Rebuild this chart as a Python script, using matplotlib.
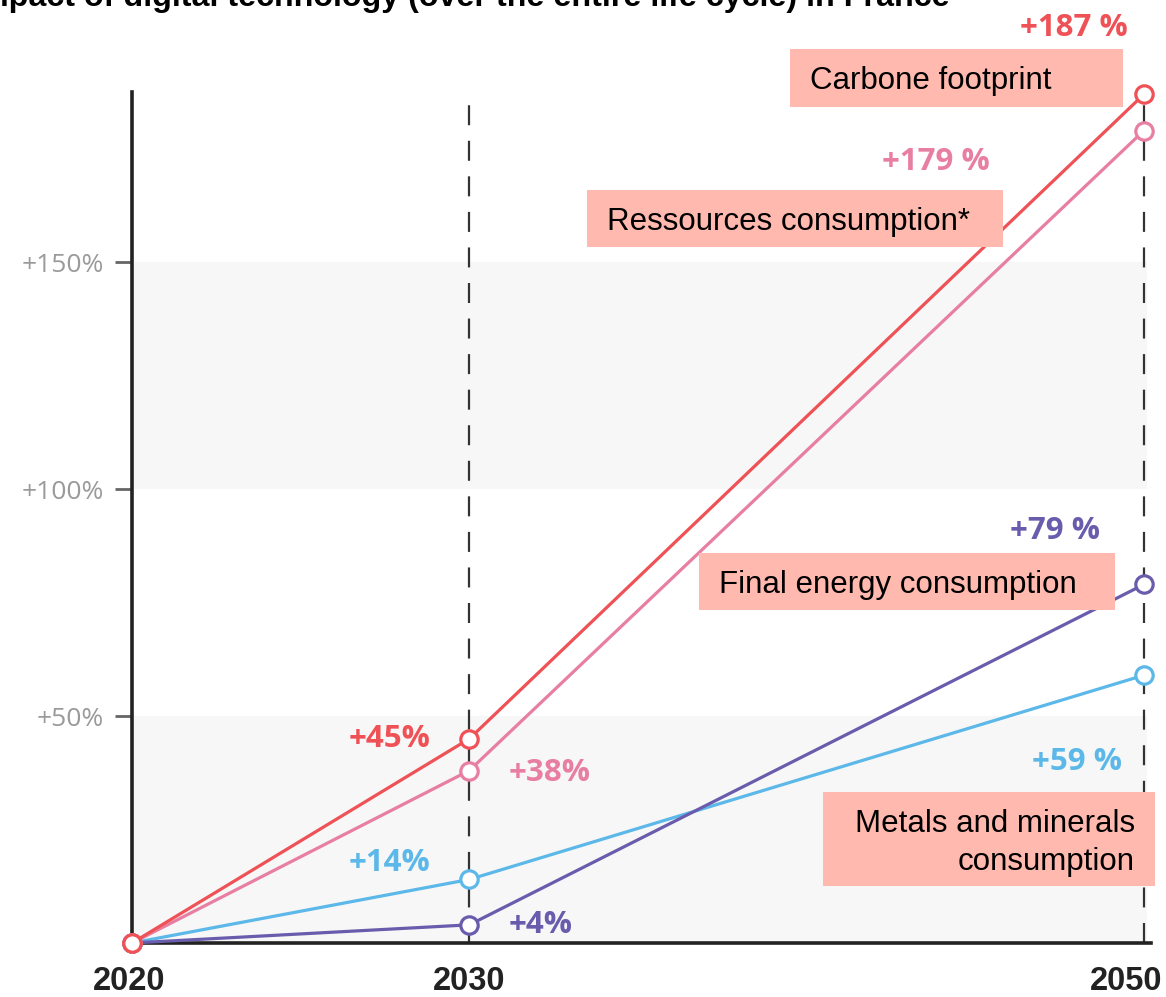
import matplotlib
matplotlib.use("Agg")
import matplotlib.pyplot as plt
from matplotlib.patches import Rectangle

# ---- data ----
years = [2020, 2030, 2050]
carbon = [0, 45, 187]
resources = [0, 38, 179]
energy = [0, 4, 79]
metals = [0, 14, 59]
series_names = ["Carbone footprint", "Ressources consumption*",
                "Final energy consumption", "Metals and minerals\nconsumption"]
ytick_vals = [50, 100, 150]
ytick_labels = ["+50%", "+100%", "+150%"]
xtick_labels = ["2020", "2030", "2050"]
title = "Impact of digital technology (over the entire life cycle) in France"

c_red = "#ef5256"
c_pink = "#e87ea1"
c_purple = "#6a5cad"
c_blue = "#5cb8e8"
c_box = "#ffb9ae"

W, H = 1166, 997
fig = plt.figure(figsize=(W / 100, H / 100), dpi=100)
fig.patch.set_facecolor("white")

def fx(x):
    return x / W

def fy(y):
    return 1 - y / H

ax = fig.add_axes([fx(132), fy(943), fx(1147) - fx(132), fy(92) - fy(943)])
ax.set_xlim(2020, 2050.09)
ax.set_ylim(0, 187.5)

# background bands
ax.axhspan(0, 50, color="#f7f7f7", zorder=0, lw=0)
ax.axhspan(100, 150, color="#f7f7f7", zorder=0, lw=0)

# dashed verticals
for yr in years[1:]:
    ax.axvline(yr, color="#333333", lw=1.6, dashes=(9, 7), zorder=1)

mk = dict(marker="o", markersize=12.5, markerfacecolor="white", markeredgewidth=2.3,
          lw=2.3, clip_on=False, zorder=3)
ax.plot(years, metals, color=c_blue, **mk)
ax.plot(years, energy, color=c_purple, **mk)
ax.plot(years, resources, color=c_pink, **mk)
ax.plot(years, carbon, color=c_red, **mk)

# spines
for s in ["top", "right"]:
    ax.spines[s].set_visible(False)
ax.spines["left"].set_linewidth(2.6)
ax.spines["left"].set_color("#222222")
ax.spines["bottom"].set_linewidth(2.6)
ax.spines["bottom"].set_color("#222222")
ax.spines["bottom"].set_bounds(2020, 2050.2)

ax.set_yticks(ytick_vals)
ax.set_yticklabels(ytick_labels, fontsize=19, color="#9a9a9a",
                   family=["Open Sans", "DejaVu Sans"])
ax.tick_params(axis="y", length=12, width=2, color="#666666", pad=8)
ax.set_xticks(years)
ax.set_xticklabels([])
ax.tick_params(axis="x", length=0)

# x labels
xl = dict(textcoords="offset pixels", fontsize=23.5, fontweight="bold", color="#222222",
          family="Liberation Sans", va="baseline", annotation_clip=False)
ax.annotate(xtick_labels[0], (years[0], 0), xytext=(-3, -47), ha="center", **xl)
ax.annotate(xtick_labels[1], (years[1], 0), xytext=(0, -47), ha="center", **xl)
ax.annotate(xtick_labels[2], (years[2], 0), xytext=(18, -47), ha="right", **xl)

# value labels
lab = dict(textcoords="offset pixels", fontsize=22.5, fontweight="bold",
           family=["Open Sans", "DejaVu Sans"], va="center", zorder=4)
ax.annotate(f"+{carbon[1]}%", (years[1], carbon[1]), xytext=(-39, 0), ha="right", color=c_red, **lab)
ax.annotate(f"+{resources[1]}%", (years[1], resources[1]), xytext=(39, -2), ha="left", color=c_pink, **lab)
ax.annotate(f"+{metals[1]}%", (years[1], metals[1]), xytext=(-39, 16), ha="right", color=c_blue, **lab)
ax.annotate(f"+{energy[1]}%", (years[1], energy[1]), xytext=(39, 0), ha="left", color=c_purple, **lab)
ax.annotate(f"+{carbon[2]} %", (years[2], carbon[2]), xytext=(-16, 66), ha="right", color=c_red,
            annotation_clip=False, **lab)
ax.annotate(f"+{resources[2]} %", (years[2], resources[2]), xytext=(-154, -31), ha="right", color=c_pink, **lab)
ax.annotate(f"+{energy[2]} %", (years[2], energy[2]), xytext=(-44, 53), ha="right", color=c_purple, **lab)
ax.annotate(f"+{metals[2]} %", (years[2], metals[2]), xytext=(-22, -87), ha="right", color=c_blue, **lab)

# boxes with series names
boxes = [(790, 49, 1123, 107), (587, 190, 1003, 247), (699, 553, 1115, 610), (823, 792, 1155, 886)]
for (x0, y0, x1, y1) in boxes:
    fig.add_artist(Rectangle((fx(x0), fy(y1)), fx(x1) - fx(x0), fy(y0) - fy(y1),
                             transform=fig.transFigure, facecolor=c_box, edgecolor="none", zorder=5))
btxt = dict(fontsize=22.5, family="Liberation Sans", color="black", va="baseline", zorder=6)
fig.text(fx(810), fy(89), series_names[0], ha="left", **btxt)
fig.text(fx(607), fy(230), series_names[1], ha="left", **btxt)
fig.text(fx(719), fy(593), series_names[2], ha="left", **btxt)
first, second = series_names[3].split("\n")
fig.text(fx(1135), fy(832), first, ha="right", **btxt)
fig.text(fx(1135), fy(870), second, ha="right", **btxt)

# title (cropped at the top, as in the source image)
fig.text(fx(950), fy(6), title, ha="right", va="baseline", fontsize=23.2,
         fontweight="bold", family="Liberation Sans", color="black")

fig.savefig("out.png", dpi=100)
